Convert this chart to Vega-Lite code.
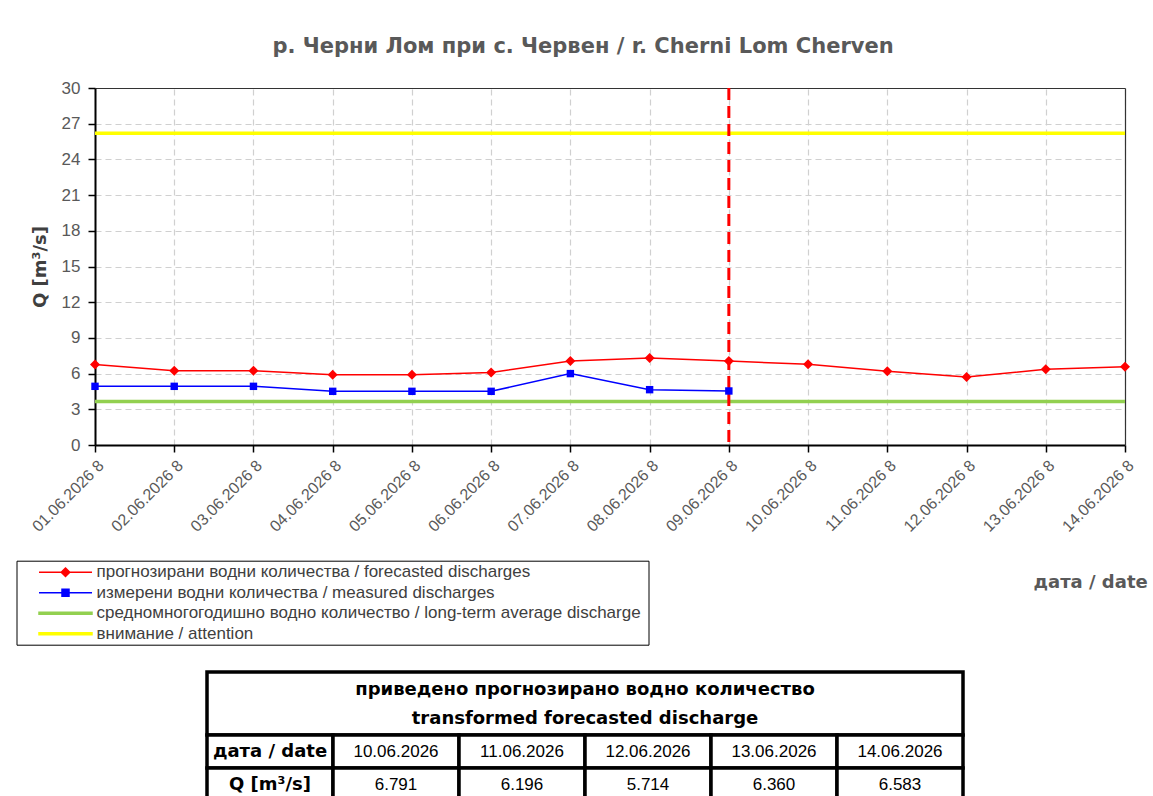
{
  "$schema": "https://vega.github.io/schema/vega-lite/v6.json",
  "width": 1030,
  "height": 357,
  "autosize": {"type": "none"},
  "padding": {"left": 95, "top": 88, "right": 28, "bottom": 351},
  "background": "white",
  "config": {
    "font": "Liberation Sans",
    "view": {"stroke": null}
  },
  "title": {
    "text": "р. Черни Лом при с. Червен / r. Cherni Lom Cherven",
    "font": "DejaVu Sans",
    "fontSize": 21,
    "fontWeight": "bold",
    "color": "#595959",
    "anchor": "middle",
    "dx": -27,
    "offset": 22
  },
  "datasets": {
    "forecast": [
      {"date": "01.06.2026 8", "q": 6.76},
      {"date": "02.06.2026 8", "q": 6.25},
      {"date": "03.06.2026 8", "q": 6.25},
      {"date": "04.06.2026 8", "q": 5.9},
      {"date": "05.06.2026 8", "q": 5.9},
      {"date": "06.06.2026 8", "q": 6.1},
      {"date": "07.06.2026 8", "q": 7.05},
      {"date": "08.06.2026 8", "q": 7.32},
      {"date": "09.06.2026 8", "q": 7.05},
      {"date": "10.06.2026 8", "q": 6.791},
      {"date": "11.06.2026 8", "q": 6.196},
      {"date": "12.06.2026 8", "q": 5.714},
      {"date": "13.06.2026 8", "q": 6.36},
      {"date": "14.06.2026 8", "q": 6.583}
    ],
    "measured": [
      {"date": "01.06.2026 8", "q": 4.93},
      {"date": "02.06.2026 8", "q": 4.93},
      {"date": "03.06.2026 8", "q": 4.93},
      {"date": "04.06.2026 8", "q": 4.51},
      {"date": "05.06.2026 8", "q": 4.51},
      {"date": "06.06.2026 8", "q": 4.51},
      {"date": "07.06.2026 8", "q": 6.0},
      {"date": "08.06.2026 8", "q": 4.65},
      {"date": "09.06.2026 8", "q": 4.54}
    ],
    "levels": [
      {"series": "средномногогодишно  водно количество / long-term average discharge", "q": 3.66},
      {"series": "внимание / attention", "q": 26.2}
    ],
    "now": [
      {"date": "09.06.2026 8"}
    ],
    "header": [
      {"part": "header", "text": "приведено прогнозирано водно количество\ntransformed forecasted discharge"}
    ],
    "cells": [
      {"row": "date", "col": "c0", "text": "дата / date"},
      {"row": "date", "col": "c1", "text": "10.06.2026"},
      {"row": "date", "col": "c2", "text": "11.06.2026"},
      {"row": "date", "col": "c3", "text": "12.06.2026"},
      {"row": "date", "col": "c4", "text": "13.06.2026"},
      {"row": "date", "col": "c5", "text": "14.06.2026"},
      {"row": "q", "col": "c0", "text": "Q [m³/s]"},
      {"row": "q", "col": "c1", "text": "6.791"},
      {"row": "q", "col": "c2", "text": "6.196"},
      {"row": "q", "col": "c3", "text": "5.714"},
      {"row": "q", "col": "c4", "text": "6.360"},
      {"row": "q", "col": "c5", "text": "6.583"}
    ]
  },
  "layer": [
    {
      "layer": [
        {
          "data": {"name": "levels"},
          "mark": {"type": "rule", "strokeWidth": 3.5},
          "encoding": {
            "y": {
              "field": "q",
              "type": "quantitative",
              "scale": {"domain": [0, 30], "nice": false, "zero": true},
              "axis": {
                "orient": "left",
                "title": "Q [m³/s]",
                "titleFont": "DejaVu Sans",
                "titleX": -55,
                "titleY": 178.5,
                "titleAngle": -90,
                "titleAlign": "center",
                "titleBaseline": "middle",
                "titleFontSize": 18,
                "titleFontWeight": "bold",
                "titleColor": "#404040",
                "values": [0, 3, 6, 9, 12, 15, 18, 21, 24, 27, 30],
                "tickCount": 11,
                "labelFontSize": 17,
                "labelColor": "#595959",
                "labelPadding": 8,
                "labelOverlap": false,
                "tickSize": 7,
                "tickColor": "black",
                "tickWidth": 1.5,
                "domainColor": "black",
                "domainWidth": 2,
                "grid": true,
                "gridDash": [6, 4],
                "gridColor": "#d0d0d0",
                "gridWidth": 1.2
              }
            },
            "color": {
              "field": "series",
              "type": "nominal",
              "scale": {
                "domain": [
                  "прогнозирани  водни количества / forecasted discharges",
                  "измерени водни количества / measured discharges",
                  "средномногогодишно  водно количество / long-term average discharge",
                  "внимание / attention"
                ],
                "range": ["#FF0000", "#0000FF", "#92D050", "#FFFF00"]
              },
              "legend": {
                "orient": "none",
                "legendX": -78.5,
                "legendY": 472.7,
                "direction": "vertical",
                "title": null,
                "strokeColor": "black",
                "padding": 3,
                "symbolSize": 100,
                "symbolStrokeWidth": 1.5,
                "symbolOffset": 37.5,
                "labelOffset": 22.5,
                "rowPadding": 2.5,
                "labelFontSize": 17,
                "labelColor": "#404040",
                "labelLimit": 800,
                "encode": {
                  "symbols": {
                    "update": {
                      "shape": {"signal": "datum.index === 0 ? 'M-5.3,0H5.3M0,-0.85L0.85,0L0,0.85L-0.85,0Z' : datum.index === 1 ? 'M-5.3,0H5.3M-0.7,-0.7H0.7V0.7H-0.7Z' : 'M-5.3,-0.2H5.3V0.2H-5.3Z'"},
                      "fill": {"signal": "datum.index === 0 ? '#FF0000' : datum.index === 1 ? '#0000FF' : datum.index === 2 ? '#92D050' : '#FFFF00'"},
                      "stroke": {"signal": "datum.index === 0 ? '#FF0000' : datum.index === 1 ? '#0000FF' : datum.index === 2 ? '#92D050' : '#FFFF00'"},
                      "opacity": {"value": 1}
                    }
                  }
                }
              }
            }
          }
        },
        {
          "data": {"name": "now"},
          "mark": {"type": "rule", "color": "#FF0000", "strokeWidth": 3, "strokeDash": [12, 6]},
          "encoding": {
            "x": {
              "field": "date",
              "type": "ordinal",
              "scale": {
                "type": "point",
                "padding": 0,
                "domain": ["01.06.2026 8", "02.06.2026 8", "03.06.2026 8", "04.06.2026 8", "05.06.2026 8", "06.06.2026 8", "07.06.2026 8", "08.06.2026 8", "09.06.2026 8", "10.06.2026 8", "11.06.2026 8", "12.06.2026 8", "13.06.2026 8", "14.06.2026 8"]
              },
              "axis": {
                "orient": "bottom",
                "title": "дата / date",
                "titleFont": "DejaVu Sans",
                "titleX": 938,
                "titleY": 137,
                "titleAlign": "left",
                "titleBaseline": "middle",
                "titleFontSize": 18,
                "titleFontWeight": "bold",
                "titleColor": "#595959",
                "labelAngle": -45,
                "labelFontSize": 16,
                "labelColor": "#595959",
                "labelPadding": 5,
                "labelOverlap": false,
                "tickSize": 7,
                "tickColor": "black",
                "tickWidth": 1.5,
                "domainColor": "black",
                "domainWidth": 2,
                "grid": true,
                "gridDash": [6, 4],
                "gridColor": "#d0d0d0",
                "gridWidth": 1.2
              }
            }
          }
        },
        {
          "data": {"name": "forecast"},
          "mark": {"type": "line", "strokeWidth": 1.5},
          "encoding": {
            "x": {"field": "date", "type": "ordinal", "axis": {"orient": "top", "labels": false, "ticks": false, "grid": false, "title": null, "domainColor": "#333333", "domainWidth": 1.2}},
            "y": {"field": "q", "type": "quantitative", "axis": {"orient": "right", "labels": false, "ticks": false, "grid": false, "title": null, "domainColor": "#333333", "domainWidth": 1.2}},
            "color": {"datum": "прогнозирани  водни количества / forecasted discharges"}
          }
        },
        {
          "data": {"name": "measured"},
          "mark": {"type": "line", "strokeWidth": 1.5},
          "encoding": {
            "x": {"field": "date", "type": "ordinal", "axis": null},
            "y": {"field": "q", "type": "quantitative", "axis": null},
            "color": {"datum": "измерени водни количества / measured discharges"}
          }
        },
        {
          "data": {"name": "forecast"},
          "mark": {"type": "point", "shape": "diamond", "filled": true, "size": 100, "opacity": 1},
          "encoding": {
            "x": {"field": "date", "type": "ordinal", "axis": null},
            "y": {"field": "q", "type": "quantitative", "axis": null},
            "color": {"datum": "прогнозирани  водни количества / forecasted discharges"}
          }
        },
        {
          "data": {"name": "measured"},
          "mark": {"type": "point", "shape": "square", "filled": true, "size": 55, "opacity": 1},
          "encoding": {
            "x": {"field": "date", "type": "ordinal", "axis": null},
            "y": {"field": "q", "type": "quantitative", "axis": null},
            "color": {"datum": "измерени водни количества / measured discharges"}
          }
        }
      ],
      "resolve": {"axis": {"x": "independent", "y": "independent"}}
    },
    {
      "layer": [
        {
          "data": {"name": "header"},
          "layer": [
            {
              "mark": {"type": "rect", "fill": "white", "stroke": "black", "strokeWidth": 3.5},
              "encoding": {
                "x": {"field": "part", "type": "nominal", "scale": {"type": "band", "range": [112, 868], "paddingInner": 0, "paddingOuter": 0}, "axis": null},
                "y": {"field": "part", "type": "nominal", "scale": {"type": "band", "range": [584, 647], "paddingInner": 0, "paddingOuter": 0}, "axis": null}
              }
            },
            {
              "mark": {"type": "text", "font": "DejaVu Sans", "fontSize": 18, "fontWeight": "bold", "color": "black", "lineBreak": "\n", "lineHeight": 29, "baseline": "middle", "align": "center", "dy": -13.5},
              "encoding": {
                "x": {"field": "part", "type": "nominal"},
                "y": {"field": "part", "type": "nominal"},
                "text": {"field": "text", "type": "nominal"}
              }
            }
          ]
        },
        {
          "data": {"name": "cells"},
          "layer": [
            {
              "mark": {"type": "rect", "fill": "white", "stroke": "black", "strokeWidth": 3.5},
              "encoding": {
                "x": {"field": "col", "type": "nominal", "scale": {"type": "band", "domain": ["c0", "c1", "c2", "c3", "c4", "c5"], "range": [112, 868], "paddingInner": 0, "paddingOuter": 0}, "axis": null},
                "y": {"field": "row", "type": "nominal", "scale": {"type": "band", "domain": ["date", "q"], "range": [647, 713], "paddingInner": 0, "paddingOuter": 0}, "axis": null}
              }
            },
            {
              "transform": [{"filter": "datum.col === 'c0'"}],
              "mark": {"type": "text", "font": "DejaVu Sans", "fontSize": 18, "fontWeight": "bold", "color": "black", "baseline": "middle", "align": "center"},
              "encoding": {
                "x": {"field": "col", "type": "nominal"},
                "y": {"field": "row", "type": "nominal"},
                "text": {"field": "text", "type": "nominal"}
              }
            },
            {
              "transform": [{"filter": "datum.col !== 'c0'"}],
              "mark": {"type": "text", "fontSize": 17, "color": "black", "baseline": "middle", "align": "center"},
              "encoding": {
                "x": {"field": "col", "type": "nominal"},
                "y": {"field": "row", "type": "nominal"},
                "text": {"field": "text", "type": "nominal"}
              }
            }
          ]
        }
      ],
      "resolve": {"scale": {"x": "independent", "y": "independent"}}
    }
  ],
  "resolve": {"scale": {"x": "independent", "y": "independent"}}
}
